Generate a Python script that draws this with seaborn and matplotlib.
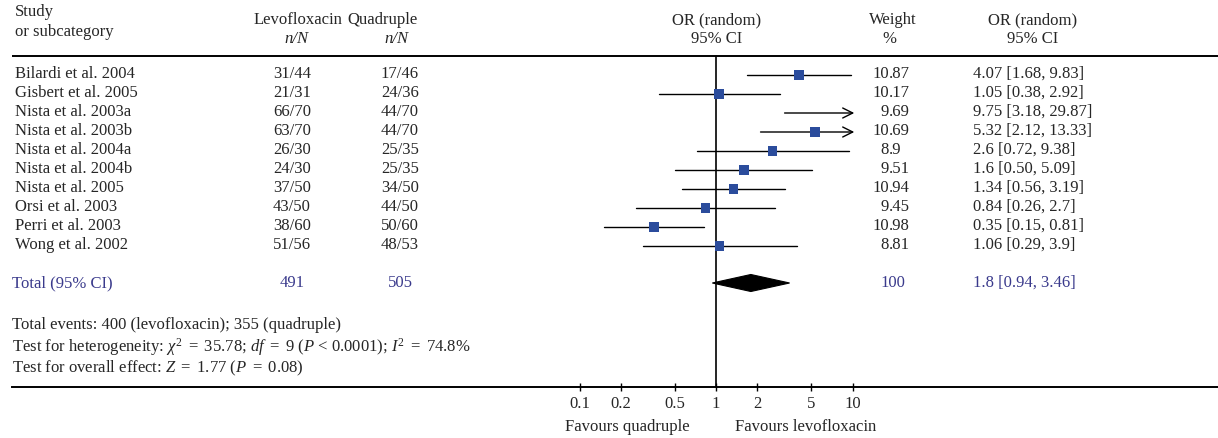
import matplotlib
matplotlib.use("Agg")
import matplotlib.pyplot as plt
import seaborn as sns
import numpy as np
import pandas as pd
from matplotlib.patches import Polygon

# ---------------- data ----------------
studies = ["Bilardi et al. 2004", "Gisbert et al. 2005", "Nista et al. 2003a",
           "Nista et al. 2003b", "Nista et al. 2004a", "Nista et al. 2004b",
           "Nista et al. 2005", "Orsi et al. 2003", "Perri et al. 2003",
           "Wong et al. 2002"]
levo_nN = ["31/44", "21/31", "66/70", "63/70", "26/30", "24/30", "37/50",
           "43/50", "38/60", "51/56"]
quad_nN = ["17/46", "24/36", "44/70", "44/70", "25/35", "25/35", "34/50",
           "44/50", "50/60", "48/53"]
weights = ["10.87", "10.17", "9.69", "10.69", "8.9", "9.51", "10.94", "9.45",
           "10.98", "8.81"]
or_est = [4.07, 1.05, 9.75, 5.32, 2.6, 1.6, 1.34, 0.84, 0.35, 1.06]
or_lo = [1.68, 0.38, 3.18, 2.12, 0.72, 0.50, 0.56, 0.26, 0.15, 0.29]
or_hi = [9.83, 2.92, 29.87, 13.33, 9.38, 5.09, 3.19, 2.7, 0.81, 3.9]
or_text = ["4.07 [1.68, 9.83]", "1.05 [0.38, 2.92]", "9.75 [3.18, 29.87]",
           "5.32 [2.12, 13.33]", "2.6 [0.72, 9.38]", "1.6 [0.50, 5.09]",
           "1.34 [0.56, 3.19]", "0.84 [0.26, 2.7]", "0.35 [0.15, 0.81]",
           "1.06 [0.29, 3.9]"]
total_label = "Total (95% CI)"
total_levo = "491"
total_quad = "505"
total_weight = "100"
total_est, total_lo, total_hi = 1.8, 0.94, 3.46
total_text = "1.8 [0.94, 3.46]"
tick_vals = [0.1, 0.2, 0.5, 1, 2, 5, 10]
tick_labels = ["0.1", "0.2", "0.5", "1", "2", "5", "10"]
footer = ["Total events: 400 (levofloxacin); 355 (quadruple)",
          r"Test for heterogeneity: $\chi^2\ =\ 35.78$; $df\ =\ 9$ ($P$ < 0.0001); $I^2\ =\ 74.8$%",
          r"Test for overall effect: $Z\ =\ 1.77$ ($P\ =\ 0.08$)"]

# ---------------- style ----------------
sns.set_theme(style="white")
plt.rcParams['font.family'] = ['Liberation Serif', 'DejaVu Serif']
plt.rcParams['mathtext.fontset'] = 'custom'
plt.rcParams['mathtext.rm'] = 'Liberation Serif'
plt.rcParams['mathtext.it'] = 'Liberation Serif:italic'
FS = 12
NAVY = '#3a3a8c'
SQ = '#2b4c9c'

W, H = 1218, 439
fig = plt.figure(figsize=(W / 100, H / 100), dpi=100)

# text/layout axes in pixel coordinates
tax = fig.add_axes([0, 0, 1, 1])
tax.set_xlim(0, W)
tax.set_ylim(H, 0)
tax.axis('off')

# forest axes: log x, pixel y
X1, DEC = 716.0, 136.5
fax = fig.add_axes([0, 0, 1, 1])
fax.patch.set_visible(False)
fax.set_xscale('log')
fax.set_xlim(10 ** ((0 - X1) / DEC), 10 ** ((W - X1) / DEC))
fax.set_ylim(H, 0)

row0, dy = 76, 19
ys = [row0 + i * dy for i in range(len(studies))]
y_tot = 284
y_head1, y_head2 = 20, 39
y_line = 57
y_axis = 388
x_max_disp = 10

# header
tax.text(15, 12, "Study", fontsize=FS, va='center', ha='left')
tax.text(15, 32, "or subcategory", fontsize=FS, va='center', ha='left')
tax.text(298, y_head1, "Levofloxacin", fontsize=FS, va='center', ha='center')
tax.text(296, y_head2, "n/N", fontsize=FS, va='center', ha='center', style='italic')
tax.text(382, y_head1, "Quadruple", fontsize=FS, va='center', ha='center')
tax.text(396, y_head2, "n/N", fontsize=FS, va='center', ha='center', style='italic')
tax.text(717, y_head1, "OR (random)", fontsize=FS, va='center', ha='center')
tax.text(717, y_head2, "95% CI", fontsize=FS, va='center', ha='center')
tax.text(893, y_head1, "Weight", fontsize=FS, va='center', ha='center')
tax.text(889, y_head2, "%", fontsize=FS, va='center', ha='center')
tax.text(1033, y_head1, "OR (random)", fontsize=FS, va='center', ha='center')
tax.text(1033, y_head2, "95% CI", fontsize=FS, va='center', ha='center')
tax.plot([12, W], [y_line, y_line], color='black', lw=1.4, solid_capstyle='butt')

# rows
for i, y in enumerate(ys):
    yt = y - 2
    tax.text(15, yt, studies[i], fontsize=FS, va='center', ha='left')
    tax.text(292, yt, levo_nN[i], fontsize=FS, va='center', ha='center')
    tax.text(400, yt, quad_nN[i], fontsize=FS, va='center', ha='center')
    ip, _, fp = weights[i].partition('.')
    tax.text(889, yt, ip, fontsize=FS, va='center', ha='right')
    if fp:
        tax.text(889, yt, '.' + fp, fontsize=FS, va='center', ha='left')
    tax.text(973, yt, or_text[i], fontsize=FS, va='center', ha='left')

# total row
yt = y_tot - 1
tax.text(12, yt, total_label, fontsize=FS, va='center', ha='left', color=NAVY)
tax.text(292, yt, total_levo, fontsize=FS, va='center', ha='center', color=NAVY)
tax.text(400, yt, total_quad, fontsize=FS, va='center', ha='center', color=NAVY)
tax.text(893, yt, total_weight, fontsize=FS, va='center', ha='center', color=NAVY)
tax.text(973, yt, total_text, fontsize=FS, va='center', ha='left', color=NAVY)

# footer
for s, y in zip(footer, [325, 347, 368]):
    tax.text(12, y, s, fontsize=FS, va='center', ha='left')

# reference line at OR = 1
fax.plot([1, 1], [y_line, y_axis], color='black', lw=1.2, zorder=3)

# CI lines / arrows
for lo, hi, y in zip(or_lo, or_hi, ys):
    if hi > x_max_disp:
        fax.annotate('', xy=(x_max_disp * 1.03, y), xytext=(lo, y),
                     arrowprops=dict(arrowstyle='->', lw=1.0, color='black',
                                     mutation_scale=18, shrinkA=0, shrinkB=0),
                     zorder=2)
    else:
        fax.plot([lo, hi], [y, y], color='black', lw=1.0, zorder=2)

# squares (points drawn only inside the displayed range)
df = pd.DataFrame({'or': or_est, 'y': ys, 'hi': or_hi})
df_show = df[~((df['hi'] > x_max_disp) & (df['or'] * 1.2 > x_max_disp))]
sns.scatterplot(data=df_show, x='or', y='y', marker='s', s=48, color=SQ,
                edgecolor='none', linewidth=0, ax=fax, zorder=4, legend=False)

# diamond for total
dh = 8.5
fax.add_patch(Polygon([[total_lo, y_tot], [total_est, y_tot - dh],
                       [total_hi, y_tot], [total_est, y_tot + dh]],
                      closed=True, facecolor='black', edgecolor='black', lw=0.8,
                      zorder=5))

# x axis
for side in ['top', 'right', 'left']:
    fax.spines[side].set_visible(False)
fax.spines['bottom'].set_position(('data', y_axis))
fax.spines['bottom'].set_bounds(10 ** ((12 - X1) / DEC), fax.get_xlim()[1])
fax.spines['bottom'].set_linewidth(1.4)
fax.spines['bottom'].set_color('black')
fax.set_xticks(tick_vals)
fax.set_xticklabels(tick_labels, fontsize=FS)
fax.xaxis.set_minor_locator(matplotlib.ticker.NullLocator())
fax.tick_params(axis='x', which='major', direction='inout', length=6, width=1.0,
                color='black', pad=3, bottom=True)
fax.set_yticks([])
fax.set_xlabel('')
fax.set_ylabel('')

tax.text(627, 427, "Favours quadruple", fontsize=FS, va='center', ha='center')
tax.text(806, 427, "Favours levofloxacin", fontsize=FS, va='center', ha='center')

fig.savefig("out.png", dpi=100)
